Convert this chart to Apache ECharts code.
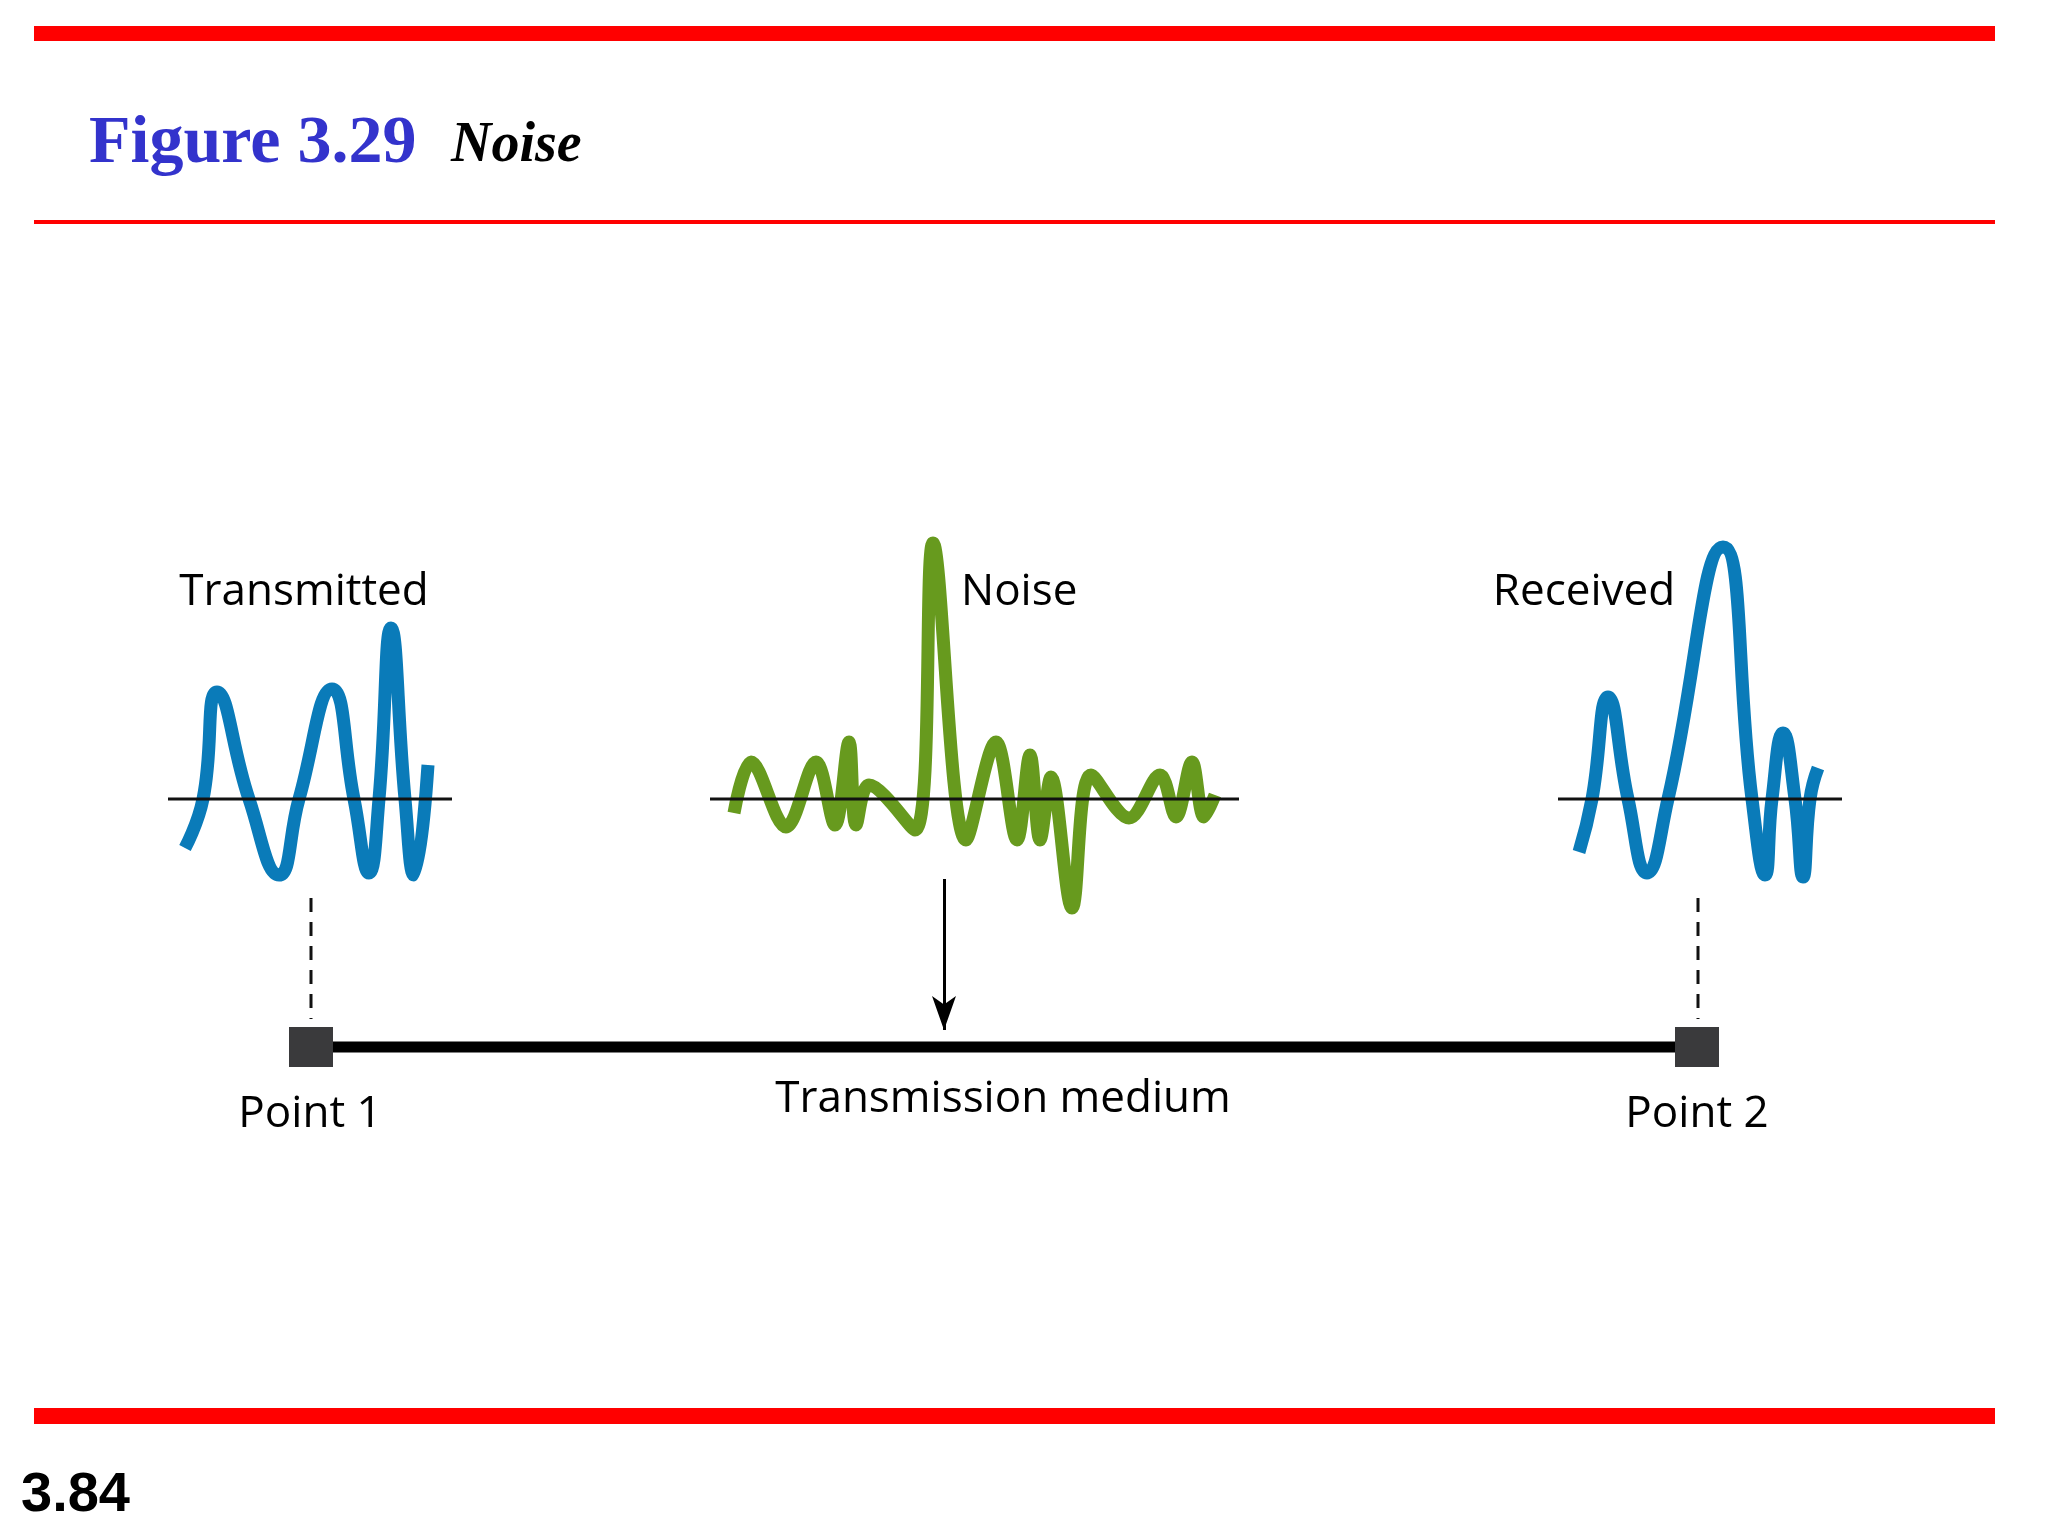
<!DOCTYPE html>
<html>
<head>
<meta charset="utf-8">
<script src="https://cdn.jsdelivr.net/npm/echarts@6/dist/echarts.min.js"></script>
<style>html,body{margin:0;padding:0;background:#fff}#main{width:2048px;height:1536px}</style>
</head>
<body>
<div id="main"></div>
<script>
// waveform points, in figure coordinates (x right, y down)
let transmitted = [[185,848],[203,799],[217,692],[249,799],[279,875],[299,799],[332,689],[354,799],[369,873],[379,799],[391,628],[405,799],[414,875],[428,765]];
let noise = [[734,813],[751,762],[786,827],[816,762],[835,825],[849,742],[856,825],[869,785],[915,830],[933,543],[966,840],[996,742],[1017,840],[1030,755],[1040,840],[1051,777],[1072,908],[1091,775],[1129,818],[1160,775],[1176,817],[1192,762],[1204,817],[1215,795]];
let received = [[1579,852],[1592,799],[1608,697],[1628,799],[1647,873],[1668,799],[1723,547],[1752,799],[1765,875],[1772,799],[1783,733],[1795,799],[1803,877],[1810,799],[1818,768]];
let baselines = [[[168,799],[452,799]],[[710,799],[1239,799]],[[1558,799],[1842,799]]];
let medium = [[311,1047],[1697,1047]];
let dashes = [[[311,898],[311,1019]],[[1698,898],[1698,1019]]];
let arrow = [[944,879],[944,1030]];
let labels = [
    {text:'Transmitted', x:304, y:592, align:'center'},
    {text:'Noise', x:961, y:592, align:'left'},
    {text:'Received', x:1584, y:592, align:'center'},
    {text:'Point 1', x:310, y:1114, align:'center'},
    {text:'Transmission medium', x:1003, y:1099, align:'center'},
    {text:'Point 2', x:1697, y:1114, align:'center'}
];

let myChart = echarts.init(document.getElementById('main'));
let series = [];
baselines.forEach(function (b) {
    series.push({type:'line', data:b, symbol:'none', lineStyle:{color:'#111', width:3}, z:3});
});
dashes.forEach(function (d) {
    series.push({type:'line', data:d, symbol:'none', lineStyle:{color:'#111', width:3, type:[14,10]}});
});
series.push({type:'line', data:transmitted, smooth:0.5, symbol:'none', lineStyle:{color:'#0a7bb9', width:13}, z:2});
series.push({type:'line', data:received, smooth:0.5, symbol:'none', lineStyle:{color:'#0a7bb9', width:13}, z:2});
series.push({type:'line', data:noise, smooth:0.35, symbol:'none', lineStyle:{color:'#679a1e', width:13}, z:2});
series.push({type:'line', data:medium, symbol:'none', lineStyle:{color:'#000', width:11}, z:1});
series.push({type:'scatter', data:medium, symbol:'rect', symbolSize:[44,40], itemStyle:{color:'#3a3a3c', opacity:1}, z:5});
series.push({type:'line', data:[], markLine:{
    silent:true, symbol:['none','arrow'], symbolSize:[18,34], label:{show:false},
    lineStyle:{color:'#000', width:3, type:'solid'},
    data:[[{coord:arrow[0]},{coord:arrow[1]}]]
}});

let option = {
    animation:false,
    grid:{left:0, right:0, top:0, bottom:0},
    xAxis:{type:'value', min:0, max:2048, show:false},
    yAxis:{type:'value', min:0, max:1536, inverse:true, show:false},
    series:series,
    graphic:[
        {type:'rect', shape:{x:34, y:26, width:1961, height:15}, style:{fill:'#ff0000'}},
        {type:'rect', shape:{x:34, y:220, width:1961, height:4}, style:{fill:'#ff0000'}},
        {type:'rect', shape:{x:34, y:1408, width:1961, height:16}, style:{fill:'#ff0000'}},
        {type:'text', left:89, top:110, style:{text:'Figure 3.29', fill:'#3333cc', font:'bold 68px "Liberation Serif", serif'}},
        {type:'text', left:451, top:119, style:{text:'Noise', fill:'#000', font:'italic bold 56px "Liberation Serif", serif'}},
        {type:'text', left:21, top:1468, style:{text:'3.84', fill:'#000', font:'bold 56px "Liberation Sans", Arial, sans-serif'}}
    ].concat(labels.map(function (l) {
        return {type:'text', x:l.x, y:l.y, style:{text:l.text, fill:'#000', align:l.align, verticalAlign:'middle',
            font:'44px "Open Sans", "Noto Sans", sans-serif'}};
    }))
};
myChart.setOption(option);
</script>
</body>
</html>
